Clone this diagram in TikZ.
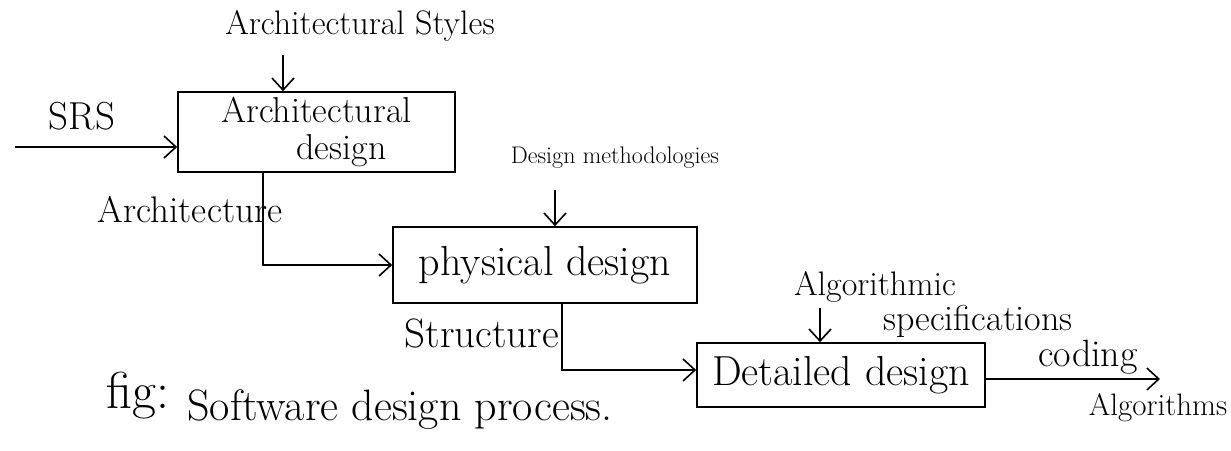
\documentclass[tikz,border=0pt]{standalone}
\usetikzlibrary{arrows.meta}
\begin{document}
\begin{tikzpicture}[x=1pt,y=-1pt,line width=1.6pt,
  fs/.style={font=\fontsize{#1}{#1}\selectfont},
  blk/.style={draw,inner sep=0pt,fs=42},
  lbl/.style={inner sep=0pt,fs=38},
  arr/.style={-{Straight Barb[length=12pt,width=22pt]}}]
\useasboundingbox (0,0) rectangle (1231,450);
% boxes
\node[blk,minimum width=277pt,minimum height=80pt,align=center,
      font=\fontsize{36}{37}\selectfont] (b1) at (316.5,132) {Architectural\\\hspace*{50pt}design};
\node[blk,minimum width=304pt,minimum height=76pt] (b2) at (545,265) {physical design};
\node[blk,minimum width=288pt,minimum height=64pt] (b3) at (841,375) {Detailed design};
% labels
\node[lbl,fs=34] (styles) at (360,26) {Architectural Styles};
\node[lbl,fs=39] (srs) at (82,116) {SRS};
\node[lbl,fs=37] (archl) at (190,210) {Architecture};
\node[lbl,fs=24] (dm) at (615,158) {Design methodologies};
\node[lbl,fs=41] (struct) at (482,333) {Structure};
\node[lbl,fs=34] (alg) at (875,287) {Algorithmic};
\node[lbl,fs=36] (spec) at (978,321) {specifications};
\node[lbl,fs=38] (coding) at (1088,357) {coding};
\node[lbl,fs=31] (algs) at (1158,408) {Algorithms};
\node[lbl,fs=52] (fig) at (138,396) {fig:};
\node[lbl,fs=44] (cap) at (400,410) {Software design process.};
% connector end points
\coordinate (sa) at (283,55);
\coordinate (srsin) at (15,147);
\coordinate (dma) at (555,190);
\coordinate (ala) at (820,308);
\coordinate (out) at (1160,379);
% connectors
\draw[arr] (sa) -- (sa |- b1.north);
\draw[arr] (srsin) -- (srsin -| b1.west);
\draw[arr] ([xshift=-53.5pt]b1.south) |- (b2.west);
\draw[arr] (dma) -- (dma |- b2.north);
\draw[arr] ([xshift=17pt]b2.south) |- ([yshift=5pt]b3.west);
\draw[arr] (ala) -- (ala |- b3.north);
\draw[arr] (out -| b3.east) -- (out);
\end{tikzpicture}
\end{document}
